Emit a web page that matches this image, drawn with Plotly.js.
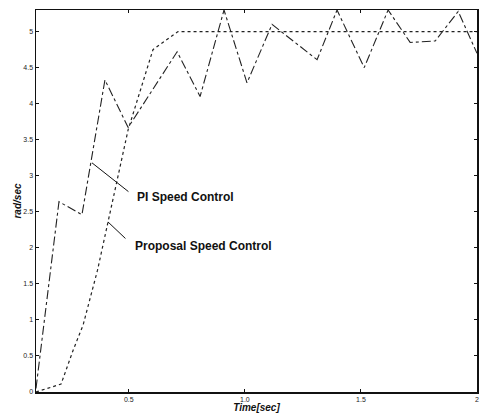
<!DOCTYPE html>
<html>
<head>
<meta charset="utf-8">
<script src="https://cdn.plot.ly/plotly-3.0.1.min.js"></script>
<style>html,body{margin:0;padding:0;background:#fff;}#chart{width:482px;height:413px;}</style>
</head>
<body>
<div id="chart"></div>
<script>
// PI speed control (oscillating)
const piTime  = [0.1, 0.199, 0.298, 0.397, 0.497, 0.708, 0.807, 0.91, 1.009, 1.117, 1.311, 1.397, 1.514, 1.617, 1.712, 1.82, 1.919, 2.0];
const piSpeed = [0.05, 2.64, 2.46, 4.33, 3.67, 4.72, 4.10, 5.30, 4.29, 5.10, 4.61, 5.30, 4.50, 5.30, 4.85, 4.87, 5.28, 4.70];
// Proposal speed control (smooth rise)
const propTime  = [0.1, 0.208, 0.26, 0.303, 0.365, 0.497, 0.604, 0.712, 1.0, 1.5, 2.0];
const propSpeed = [0.0, 0.11, 0.58, 0.93, 1.69, 3.64, 4.75, 5.0, 5.0, 5.0, 5.0];

const yTicks = [0, 0.5, 1, 1.5, 2, 2.5, 3, 3.5, 4, 4.5, 5];
const yTickText = ['0', '0.5', '1', '1.5', '2', '2.5', '3', '3.5', '4', '4.5', '5'];
const xTicks = [0.5, 1.0, 1.5, 2.0];
const xTickText = ['0.5', '1.0', '1.5', '2'];

const labelPI = 'PI Speed Control';
const labelProp = 'Proposal Speed Control';

const traces = [
  {x: piTime, y: piSpeed, mode: 'lines', line: {color: '#222', width: 1.1, dash: 'dashdot'}, hoverinfo: 'skip'},
  {x: propTime, y: propSpeed, mode: 'lines', line: {color: '#222', width: 1.2, dash: 'dot'}, hoverinfo: 'skip'}
];

const axisCommon = {
  showgrid: false, zeroline: false, showline: true, linecolor: '#111', linewidth: 1.5,
  mirror: 'ticks', ticks: 'inside', ticklen: 3, tickcolor: '#111',
  tickfont: {family: 'Liberation Sans, Arial, sans-serif', size: 7, color: '#222'}
};

const layout = {
  width: 482, height: 413,
  margin: {l: 36, r: 5, t: 10, b: 21},
  paper_bgcolor: '#fff', plot_bgcolor: '#fff',
  showlegend: false,
  xaxis: Object.assign({}, axisCommon, {
    range: [0.1, 2.0], tickvals: xTicks, ticktext: xTickText,
    title: {text: '<b><i>Time[sec]</i></b>', font: {family: 'Liberation Sans, Arial, sans-serif', size: 10, color: '#111'}, standoff: 2}
  }),
  yaxis: Object.assign({}, axisCommon, {
    range: [0, 5.3], tickvals: yTicks, ticktext: yTickText,
    title: {text: '<b><i>rad/sec</i></b>', font: {family: 'Liberation Sans, Arial, sans-serif', size: 10, color: '#111'}, standoff: 0}
  }),
  annotations: [
    {x: 0.341, y: 3.18, xref: 'x', yref: 'y', text: '', showarrow: true, arrowhead: 0, arrowwidth: 1, arrowcolor: '#111', ax: 38, ay: 30},
    {x: 0.410, y: 2.36, xref: 'x', yref: 'y', text: '', showarrow: true, arrowhead: 0, arrowwidth: 1, arrowcolor: '#111', ax: 19, ay: 18},
    {x: 0.527, y: 2.71, xref: 'x', yref: 'y', text: '<b>' + labelPI + '</b>', showarrow: false, xanchor: 'left', yanchor: 'middle',
     font: {family: 'Liberation Sans, Arial, sans-serif', size: 12, color: '#111'}},
    {x: 0.518, y: 2.03, xref: 'x', yref: 'y', text: '<b>' + labelProp + '</b>', showarrow: false, xanchor: 'left', yanchor: 'middle',
     font: {family: 'Liberation Sans, Arial, sans-serif', size: 12, color: '#111'}}
  ]
};

Plotly.newPlot('chart', traces, layout, {displayModeBar: false, staticPlot: true});
</script>
</body>
</html>
